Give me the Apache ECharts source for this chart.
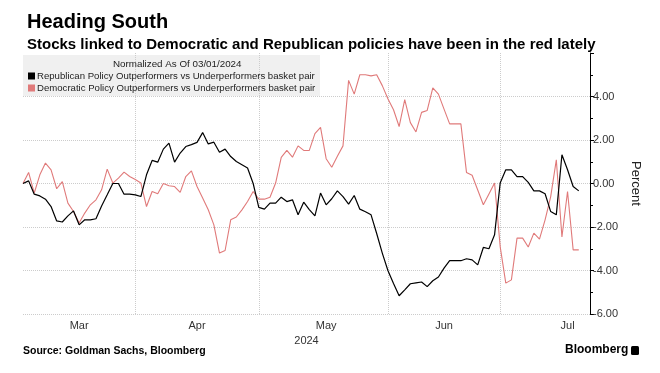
<!DOCTYPE html>
<html>
<head>
<meta charset="utf-8">
<script src="https://cdn.jsdelivr.net/npm/echarts@6/dist/echarts.min.js"></script>
<style>
  html, body { margin: 0; padding: 0; background: #fff; }
  #chart { width: 660px; height: 373px; }
</style>
</head>
<body>
<div id="chart"></div>
<script>
const dates = [
  '03/01','03/04','03/05','03/06','03/07','03/08','03/11','03/12','03/13','03/14','03/15','03/18','03/19','03/20','03/21','03/22','03/25','03/26','03/27','03/28',
  '04/01','04/02','04/03','04/04','04/05','04/08','04/09','04/10','04/11','04/12','04/15','04/16','04/17','04/18','04/19','04/22','04/23','04/24','04/25','04/26','04/29','04/30',
  '05/01','05/02','05/03','05/06','05/07','05/08','05/09','05/10','05/13','05/14','05/15','05/16','05/17','05/20','05/21','05/22','05/23','05/24','05/27','05/28','05/29','05/30','05/31',
  '06/03','06/04','06/05','06/06','06/07','06/10','06/11','06/12','06/13','06/14','06/17','06/18','06/19','06/20','06/21','06/24','06/25','06/26','06/27','06/28',
  '07/01','07/02','07/03','07/04','07/05','07/08','07/09','07/10','07/11','07/12','07/15','07/16','07/17','07/18','07/19','07/22','07/23'
];

const republican = [
  0, 0.12, -0.49, -0.57, -0.72, -1.06, -1.72, -1.77, -1.49, -1.26,
  -1.90, -1.67, -1.67, -1.62, -1.03, -0.52, 0.0, 0.0, -0.49, -0.49,
  -0.52, -0.6, 0.4, 1.06, 0.98, 1.58, 1.86, 0.98, 1.40, 1.70,
  1.79, 1.89, 2.34, 1.82, 1.90, 1.44, 1.58, 1.24, 1.01, 0.86,
  0.71, 0.0, -1.1, -1.18, -0.9, -0.9, -0.63, -0.83, -0.75, -1.44,
  -0.86, -1.2, -1.49, -0.44, -0.98, -0.7, -0.34, -0.6, -0.95, -0.55,
  -1.18, -1.3, -1.44, -2.3, -3.2, -4.0, -4.6, -5.16, -4.89, -4.61,
  -4.57, -4.53, -4.74, -4.47, -4.30, -3.89, -3.55, -3.55, -3.55, -3.46,
  -3.51, -3.74, -2.94, -3.0, -2.36, 0.02, 0.63, 0.63, 0.32, 0.32,
  0.05, -0.34, -0.34, -0.47, -1.29, -1.44, 1.32, 0.63, -0.14, -0.34
];

const democratic = [
  0, 0.51, -0.44, 0.4, 0.94, 0.63, -0.24, 0.09, -0.9, -1.29,
  -1.82, -1.36, -0.98, -0.75, -0.29, 0.66, 0.02, 0.25, 0.52, 0.32,
  0.18, 0.02, -1.06, -0.37, -0.47, 0.0, -0.1, -0.14, -0.41, 0.32,
  0.58, -0.14, -0.67, -1.21, -1.9, -3.2, -3.08, -1.67, -1.54, -1.21,
  -0.83, -0.37, -0.72, -0.72, -0.63, 0.02, 1.2, 1.52, 1.21, 1.73,
  1.52, 1.52, 2.29, 2.58, 1.14, 0.75, 1.25, 1.73, 4.74, 4.11,
  5.0, 5.0, 4.95, 5.0, 4.5, 3.9, 3.39, 2.62, 3.86, 2.8,
  2.37, 3.27, 3.36, 4.4, 4.11, 3.42, 2.74, 2.74, 2.74, 0.51,
  0.38, -0.3, -0.98, -0.48, 0.02, -2.9, -4.58, -4.43, -2.51, -2.51,
  -2.92, -2.28, -2.56, -1.67, -0.6, 1.09, -2.46, -0.37, -3.05, -3.05
];

const monthNames = ['Mar', 'Apr', 'May', 'Jun', 'Jul'];
const monthLabelDates = ['03/15', '04/16', '05/17', '06/17', '07/17'];
const monthStarts = ['04/01', '05/01', '06/03', '07/01'];
const yearLabel = '2024';
const seriesNames = [
  'Republican Policy Outperformers vs Underperformers basket pair',
  'Democratic Policy Outperformers vs Underperformers basket pair'
];

const FONT = '"Liberation Sans", Arial, sans-serif';
const chart = echarts.init(document.getElementById('chart'), null, { renderer: 'canvas' });

chart.setOption({
  backgroundColor: '#ffffff',
  animation: false,
  title: [
    { text: 'Heading South', left: 22, top: 7,
      textStyle: { fontFamily: FONT, fontSize: 20, fontWeight: 'bold', color: '#000' } },
    { text: 'Stocks linked to Democratic and Republican policies have been in the red lately', left: 22, top: 32,
      textStyle: { fontFamily: FONT, fontSize: 15, fontWeight: 'bold', color: '#000' } }
  ],
  grid: { left: 23, right: 70, top: 53, bottom: 59 },
  graphic: [
    { type: 'rect', left: 23, top: 55, shape: { width: 297, height: 41 }, style: { fill: '#f0f0f0' }, z: 0 },
    { type: 'text', left: 113, top: 59, style: { text: 'Normalized As Of 03/01/2024', font: '9.8px ' + FONT, fill: '#222' }, z: 5 },
    { type: 'text', left: 23, top: 346, style: { text: 'Source: Goldman Sachs, Bloomberg', font: 'bold 10.5px ' + FONT, fill: '#000' } },
    { type: 'text', left: 565, top: 344, style: { text: 'Bloomberg', font: 'bold 12px ' + FONT, fill: '#000' } },
    { type: 'rect', left: 631, top: 346, shape: { width: 8, height: 9, r: 1.5 }, style: { fill: '#000' } }
  ],
  legend: {
    orient: 'vertical', left: 28, top: 71, itemWidth: 7, itemHeight: 7, itemGap: 2,
    icon: 'rect', padding: 0,
    textStyle: { fontFamily: FONT, fontSize: 9.6, color: '#222', padding: [0, 0, 0, -3] },
    data: seriesNames
  },
  xAxis: {
    type: 'category',
    data: dates,
    boundaryGap: false,
    axisLine: { show: false },
    axisTick: { show: false },
    axisLabel: {
      interval: (i, v) => monthLabelDates.includes(v),
      formatter: (v) => { const k = monthLabelDates.indexOf(v); return k >= 0 ? monthNames[k] : ''; },
      fontFamily: FONT, fontSize: 11, color: '#333', margin: 6
    },
    splitLine: {
      show: true,
      interval: (i, v) => monthStarts.includes(v),
      lineStyle: { color: '#cccccc', type: 'dotted', width: 1 }
    },
    name: yearLabel, nameLocation: 'middle', nameGap: 18,
    nameTextStyle: { fontFamily: FONT, fontSize: 11, color: '#333' }
  },
  yAxis: {
    type: 'value',
    position: 'right',
    min: -6, max: 6, interval: 2,
    axisLine: { show: true, lineStyle: { color: '#000', width: 1 } },
    axisTick: { show: true, length: 4, lineStyle: { color: '#000' } },
    minorTick: { show: true, splitNumber: 2, length: 3, lineStyle: { color: '#000' } },
    axisLabel: {
      formatter: (v) => v === 6 ? '' : v.toFixed(2),
      fontFamily: FONT, fontSize: 11, color: '#333', margin: 3
    },
    splitLine: { show: true, showMaxLine: false, lineStyle: { color: '#cccccc', type: 'dotted', width: 1 } },
    name: 'Percent', nameLocation: 'middle', nameGap: 38, nameRotate: -90,
    nameTextStyle: { fontFamily: FONT, fontSize: 13, color: '#222' }
  },
  series: [
    { name: seriesNames[0], type: 'line', data: republican, symbol: 'none',
      lineStyle: { color: '#000000', width: 1.2 }, itemStyle: { color: '#000000' }, z: 3 },
    { name: seriesNames[1], type: 'line', data: democratic, symbol: 'none',
      lineStyle: { color: '#e07a7a', width: 1.1 }, itemStyle: { color: '#e07a7a' }, z: 2 }
  ]
});
</script>
</body>
</html>
